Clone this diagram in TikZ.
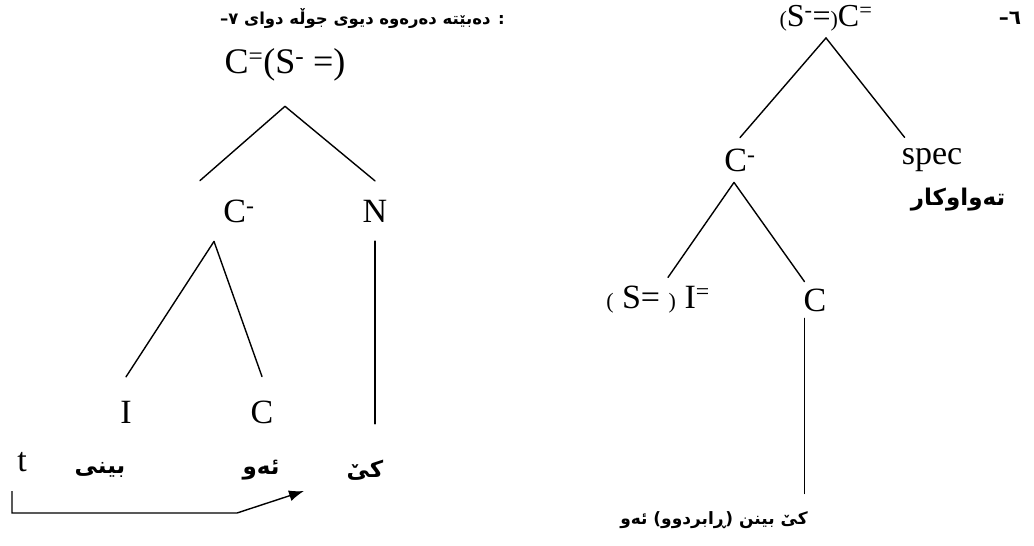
\documentclass[tikz,border=0pt]{standalone}
\usepackage{fontspec}
\setmainfont{Liberation Serif}
\newfontfamily\arabicfont[Script=Arabic]{DejaVu Sans}
\TeXXeTstate=1
\usetikzlibrary{arrows.meta,positioning}
\tikzset{
    syn cat/.style={font=\fontsize{34}{36}\selectfont, inner sep=0pt},
    syn gloss/.style={font=\arabicfont\bfseries\fontsize{23}{25}\selectfont, inner sep=0pt},
    syn title/.style={font=\arabicfont\bfseries\fontsize{16.5}{20}\selectfont, inner sep=0pt},
    syn edge/.style={line width=1.4pt, draw=black, line cap=round},
    syn move/.style={line width=1.4pt, draw=black, -{Latex[length=15pt,width=11pt]}}
}
\newcommand{\smallpar}[1]{{\fontsize{22}{24}\selectfont #1}}

\begin{document}
\begin{tikzpicture}[x=1pt, y=-1pt]
\useasboundingbox (0,0) rectangle (1034,546);

% tree 7: after the move
\node[syn title, anchor=east] (title7) at (505,19) {\mbox{–}\mbox{٧} \beginR : دەبێتە دەرەوە دیوی جوڵە دوای\endR};
\node[syn cat, outer ysep=25pt, font=\fontsize{36}{38}\selectfont] (root7) at (285,65) {C\textsuperscript{=}(S\textsuperscript{-} =)};
\node[syn cat, outer ysep=19pt] (cm7) at (239,211) {C\textsuperscript{-}};
\node[syn cat, outer ysep=19pt] (n7) at (375,211) {N};
\node[syn cat, outer ysep=24pt] (i7) at (126,412) {I};
\node[syn cat, outer ysep=24pt] (c7) at (262,412) {C};
\node[syn cat] (t7) at (22,462) {t};
\node[syn gloss] (gi7) at (100,470) {بینی};
\node[syn gloss] (gc7) at (261,470) {ئەو};
\node[syn gloss, outer ysep=36pt] (gn7) at (365,470) {کیٚ};
\draw[syn edge] (root7.south) -- ([xshift=-39pt]cm7.north);
\draw[syn edge] (root7.south) -- (n7.north);
\draw[syn edge] ([xshift=-25pt]cm7.south) -- (i7.north);
\draw[syn edge] ([xshift=-25pt]cm7.south) -- (c7.north);
\draw[syn edge] (n7.south) -- (n7.south |- gn7.north);
% trace arrow
\coordinate (mv start) at (12,491);
\coordinate (mv bend) at (237,513);
\coordinate (mv end) at (304,491);
\draw[syn move] (mv start) |- (mv bend) -- (mv end);

% tree 6
\node[syn title, font=\arabicfont\bfseries\fontsize{20}{22}\selectfont] (num6) at (1010,18) {\mbox{–}\mbox{٦}};
\node[syn cat, outer ysep=7pt, font=\fontsize{32}{34}\selectfont] (root6) at (826,18) {\smallpar{(}S\textsuperscript{-}=\smallpar{)}C\textsuperscript{=}};
\node[syn cat, outer ysep=11pt] (cm6) at (740,160) {C\textsuperscript{-}};
\node[syn cat, outer ysep=11pt] (spec6) at (932,160) {spec};
\node[syn gloss] (gspec6) at (958,200) {تەواوکار};
\node[syn cat, outer ysep=9pt] (i6) at (658,300) {\smallpar{(} S= \smallpar{)} I\textsuperscript{=}};
\node[syn cat, outer ysep=7pt] (c6) at (815,300) {C};
\node[syn gloss, outer ysep=18pt, font=\arabicfont\bfseries\fontsize{17}{20}\selectfont] (gc6) at (714,520) {\beginR کیٚ بینن (ڕابردوو) ئەو\endR};
\draw[syn edge] (root6.south) -- ([xshift=3pt]spec6.north west);
\draw[syn edge] (root6.south) -- (cm6.north);
\draw[syn edge] ([xshift=-6pt]cm6.south) -- ([xshift=10pt]i6.north);
\draw[syn edge] ([xshift=-6pt]cm6.south) -- ([xshift=1pt]c6.north west);
\draw[syn edge] ([xshift=1pt]c6.south west) -- ([xshift=1pt]c6.south west |- gc6.north);
\end{tikzpicture}
\end{document}
